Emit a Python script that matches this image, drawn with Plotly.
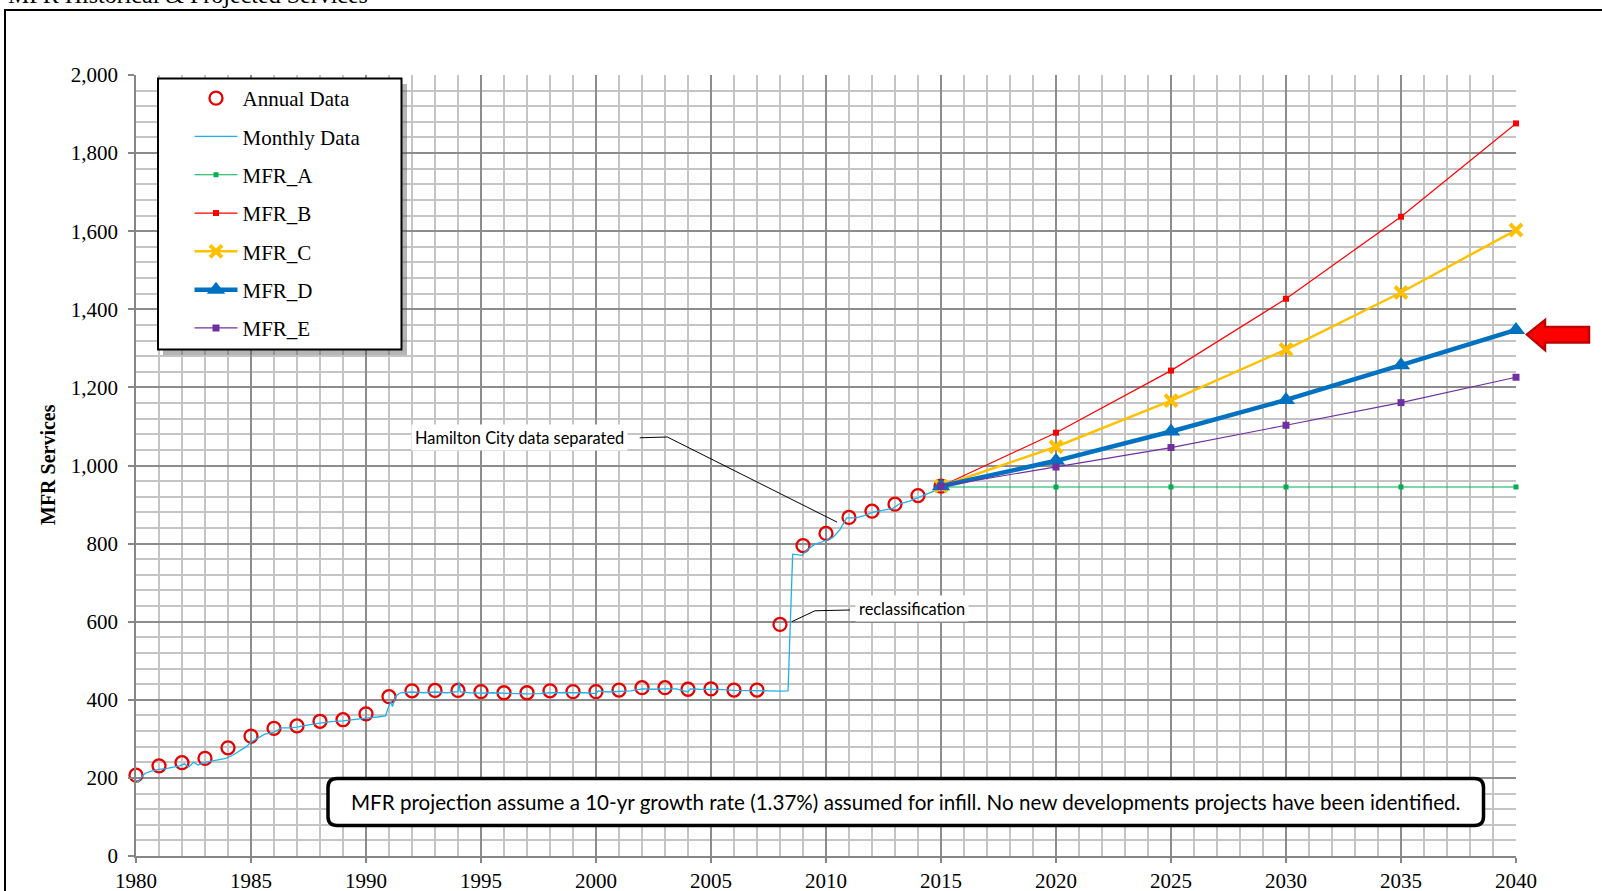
import plotly.graph_objects as go

# ---------------- data ----------------
annual_years = list(range(1980, 2016))
annual_values = [207, 231, 239, 250, 277, 307, 327, 333, 345, 349, 364, 408,
                 423, 424, 424, 421, 418, 418, 423, 421, 421, 425, 431, 431,
                 427, 428, 425, 425, 593, 795, 826, 867, 883, 901, 923, 947]

monthly_t = [1980.0, 1980.1, 1980.25, 1980.4, 1980.7, 1981.0, 1981.3, 1981.6, 1981.9,
             1982.1, 1982.3, 1982.5, 1982.7, 1983.0, 1983.3, 1983.6, 1983.9, 1984.2,
             1984.5, 1984.8, 1985.0, 1985.3, 1985.6, 1985.9, 1986.1, 1986.3, 1986.7,
             1987.0, 1987.5, 1988.0, 1988.5, 1989.0, 1989.5, 1990.0, 1990.5, 1990.85,
             1991.0, 1991.08, 1991.15, 1991.3, 1991.5, 1992.0, 1992.5, 1993.0, 1993.5,
             1994.0, 1994.05, 1994.1, 1994.5, 1995.0, 1995.5, 1996.0, 1996.5, 1997.0,
             1997.5, 1998.0, 1998.5, 1999.0, 1999.5, 2000.0, 2000.1, 2000.5, 2001.0,
             2001.5, 2002.0, 2002.5, 2003.0, 2003.5, 2004.0, 2004.1, 2004.5, 2005.0,
             2005.5, 2006.0, 2006.5, 2007.0, 2007.5, 2008.0, 2008.35, 2008.55, 2008.75,
             2008.95, 2009.2, 2009.5, 2009.9, 2010.3, 2010.6, 2010.9, 2011.3, 2011.7,
             2012.0, 2012.5, 2012.9, 2013.2, 2013.6, 2013.9, 2014.3, 2014.7, 2015.0]
monthly_v = [193, 190, 203, 212, 218, 222, 224, 228, 231,
             236, 228, 240, 233, 240, 243, 247, 250, 258,
             268, 280, 292, 303, 312, 315, 320, 328, 328,
             330, 336, 340, 344, 346, 350, 353, 356, 359,
             385, 395, 383, 410, 418, 420, 418, 420, 418,
             421, 446, 420, 418, 417, 418, 417, 416, 415,
             416, 418, 418, 418, 418, 416, 423, 420, 422,
             423, 428, 427, 428, 428, 420, 428, 427, 427,
             426, 424, 424, 424, 423, 422, 423, 773, 771,
             770, 785, 798, 806, 816, 835, 866, 866, 872,
             880, 885, 890, 902, 908, 915, 925, 933, 942]

proj_years = [2015, 2020, 2025, 2030, 2035, 2040]
mfr_a = [945, 945, 945, 945, 945, 945]
mfr_b = [947, 1084, 1243, 1427, 1637, 1876]
mfr_c = [947, 1048, 1166, 1297, 1443, 1603]
mfr_d = [947, 1012, 1087, 1168, 1257, 1347]
mfr_e = [947, 996, 1046, 1103, 1161, 1226]

x_ticks = [1980, 1985, 1990, 1995, 2000, 2005, 2010, 2015, 2020, 2025, 2030, 2035, 2040]
y_ticks = [0, 200, 400, 600, 800, 1000, 1200, 1400, 1600, 1800, 2000]

# ---------------- geometry helpers (pixel -> paper) ----------------
W, H = 1602, 891
L, R, T, B = 136, 86, 75, 35
PW, PH = W - L - R, H - T - B


def px(x):
    return (x - L) / PW


def py(y):
    return (H - B - y) / PH


SERIF = "Liberation Serif, Times New Roman, serif"
SANS = "Lato, Calibri, sans-serif"

fig = go.Figure()

fig.add_trace(go.Scatter(x=annual_years, y=annual_values, mode="markers", name="Annual Data",
                         legendgroup="g1", cliponaxis=False,
                         marker=dict(symbol="circle-open", size=13, color="#E60000",
                                     line=dict(width=2.3, color="#E60000"))))
fig.add_trace(go.Scatter(x=monthly_t, y=monthly_v, mode="lines", name="Monthly Data",
                         legendgroup="g2", line=dict(color="#1EB1EC", width=1.3)))
fig.add_trace(go.Scatter(x=proj_years, y=mfr_a, mode="lines+markers", name="MFR_A",
                         legendgroup="g3", cliponaxis=False,
                         line=dict(color="#00B050", width=1.2),
                         marker=dict(symbol="square", size=5, color="#00B050")))
fig.add_trace(go.Scatter(x=proj_years, y=mfr_b, mode="lines+markers", name="MFR_B",
                         legendgroup="g4", cliponaxis=False,
                         line=dict(color="#FF0000", width=1.2),
                         marker=dict(symbol="square", size=6, color="#FF0000")))
fig.add_trace(go.Scatter(x=proj_years, y=mfr_c, mode="lines+markers", name="MFR_C",
                         legendgroup="g5", cliponaxis=False,
                         line=dict(color="#FFC000", width=2.5),
                         marker=dict(symbol="x-thin", size=12, color="#FFC000",
                                     line=dict(width=4, color="#FFC000"))))
fig.add_trace(go.Scatter(x=proj_years, y=mfr_d, mode="lines+markers", name="MFR_D",
                         legendgroup="g6", cliponaxis=False,
                         line=dict(color="#0070C0", width=4.5),
                         marker=dict(symbol="triangle-up", size=16, color="#0070C0")))
fig.add_trace(go.Scatter(x=proj_years, y=mfr_e, mode="lines+markers", name="MFR_E",
                         legendgroup="g7", cliponaxis=False,
                         line=dict(color="#7030A0", width=1.2),
                         marker=dict(symbol="square", size=7, color="#7030A0")))

shapes = []
# outer chart frame
shapes.append(dict(type="rect", xref="paper", yref="paper", x0=px(5), x1=px(1700),
                   y0=py(1000), y1=py(10), line=dict(color="black", width=2),
                   fillcolor="rgba(0,0,0,0)", layer="below"))
# legend shadow + box
shapes.append(dict(type="rect", xref="paper", yref="paper", x0=px(163), x1=px(407),
                   y0=py(355), y1=py(84), line=dict(width=0),
                   fillcolor="rgba(90,90,90,0.45)", layer="above"))
shapes.append(dict(type="rect", xref="paper", yref="paper", x0=px(158), x1=px(401.5),
                   y0=py(349.5), y1=py(78.5), line=dict(color="black", width=2),
                   fillcolor="white", layer="above"))
# leader lines
shapes.append(dict(type="path", xref="x", yref="y",
                   path="M 2001.9,1071 L 2003.1,1073 L 2010.48,855",
                   line=dict(color="black", width=1)))
shapes.append(dict(type="path", xref="x", yref="y",
                   path="M 2011.04,630 L 2009.52,628 L 2008.51,600",
                   line=dict(color="black", width=1)))
# rounded note box
x0n, x1n, y0n, y1n = px(328), px(1483.5), py(825.5), py(778.5)
rx, ry = 9 / PW, 9 / PH
note_path = (f"M {x0n+rx},{y1n} L {x1n-rx},{y1n} Q {x1n},{y1n} {x1n},{y1n-ry} "
             f"L {x1n},{y0n+ry} Q {x1n},{y0n} {x1n-rx},{y0n} L {x0n+rx},{y0n} "
             f"Q {x0n},{y0n} {x0n},{y0n+ry} L {x0n},{y1n-ry} Q {x0n},{y1n} {x0n+rx},{y1n} Z")
shapes.append(dict(type="path", xref="paper", yref="paper", path=note_path,
                   line=dict(color="black", width=3.5), fillcolor="white", layer="above"))
# red arrow
pts = [(1527, 334.5), (1545, 320), (1545, 327), (1589, 327), (1589, 342.5),
       (1545, 342.5), (1545, 350)]
arrow_path = "M " + " L ".join(f"{px(a)},{py(b)}" for a, b in pts) + " Z"
shapes.append(dict(type="path", xref="paper", yref="paper", path=arrow_path,
                   line=dict(color="#C00000", width=2.5), fillcolor="#FF0000", layer="above"))

annotations = [
    dict(text="MFR Historical & Projected Services", xref="paper", yref="paper",
         x=px(6), y=py(-5), xanchor="left", yanchor="middle", showarrow=False,
         font=dict(family=SERIF, size=24, color="black")),
    dict(text="<b>MFR Services</b>", xref="paper", yref="paper", x=px(48), y=py(465),
         xanchor="center", yanchor="middle", textangle=-90, showarrow=False,
         font=dict(family=SERIF, size=20, color="black")),
    dict(text="Hamilton City data separated", xref="paper", yref="paper",
         x=px(519), y=py(437.5), xanchor="center", yanchor="middle", showarrow=False,
         bgcolor="white", borderpad=3, font=dict(family=SANS, size=16.4, color="black")),
    dict(text="reclassification", xref="paper", yref="paper",
         x=px(912), y=py(608.5), xanchor="center", yanchor="middle", showarrow=False,
         bgcolor="white", borderpad=3, font=dict(family=SANS, size=16.4, color="black")),
    dict(text="MFR projection assume a 10-yr growth rate (1.37%) assumed for infill. "
              "No new developments projects have been identified.",
         xref="paper", yref="paper", x=px(905.75), y=py(802), xanchor="center",
         yanchor="middle", showarrow=False, font=dict(family=SANS, size=20.6, color="black")),
]

fig.update_layout(
    template="none",
    width=W, height=H,
    margin=dict(l=L, r=R, t=T, b=B, pad=0),
    paper_bgcolor="white", plot_bgcolor="white",
    shapes=shapes, annotations=annotations,
    showlegend=True,
    legend=dict(x=px(189.5), y=py(78), xanchor="left", yanchor="top",
                bgcolor="rgba(0,0,0,0)", borderwidth=0, tracegroupgap=8, itemwidth=43,
                font=dict(family=SERIF, size=21, color="black")),
    xaxis=dict(range=[1980, 2040], tickvals=x_ticks, ticktext=[str(v) for v in x_ticks],
               automargin=False,
               showgrid=True, gridcolor="#8C8C8C", gridwidth=1.5,
               minor=dict(dtick=1, tick0=1980, showgrid=True, gridcolor="#C4C4C4", gridwidth=1.5),
               showline=True, linecolor="#868686", linewidth=1.5,
               ticks="outside", ticklen=5, tickcolor="#868686", tickwidth=1.5,
               tickfont=dict(family=SERIF, size=21, color="black"), zeroline=False),
    yaxis=dict(range=[0, 2000], tickvals=y_ticks, tickformat=",d",
               automargin=False,
               showgrid=True, gridcolor="#8C8C8C", gridwidth=1.5,
               minor=dict(dtick=40, tick0=0, showgrid=True, gridcolor="#C4C4C4", gridwidth=1.5),
               showline=True, linecolor="#868686", linewidth=1.5,
               ticks="outside", ticklen=6, tickcolor="#868686", tickwidth=1.5,
               ticklabelstandoff=6,
               tickfont=dict(family=SERIF, size=21, color="black"), zeroline=False),
)

fig.write_html("out.html", config={"displayModeBar": False},
               post_script="document.body.style.margin='0';document.body.style.overflow='hidden';")
